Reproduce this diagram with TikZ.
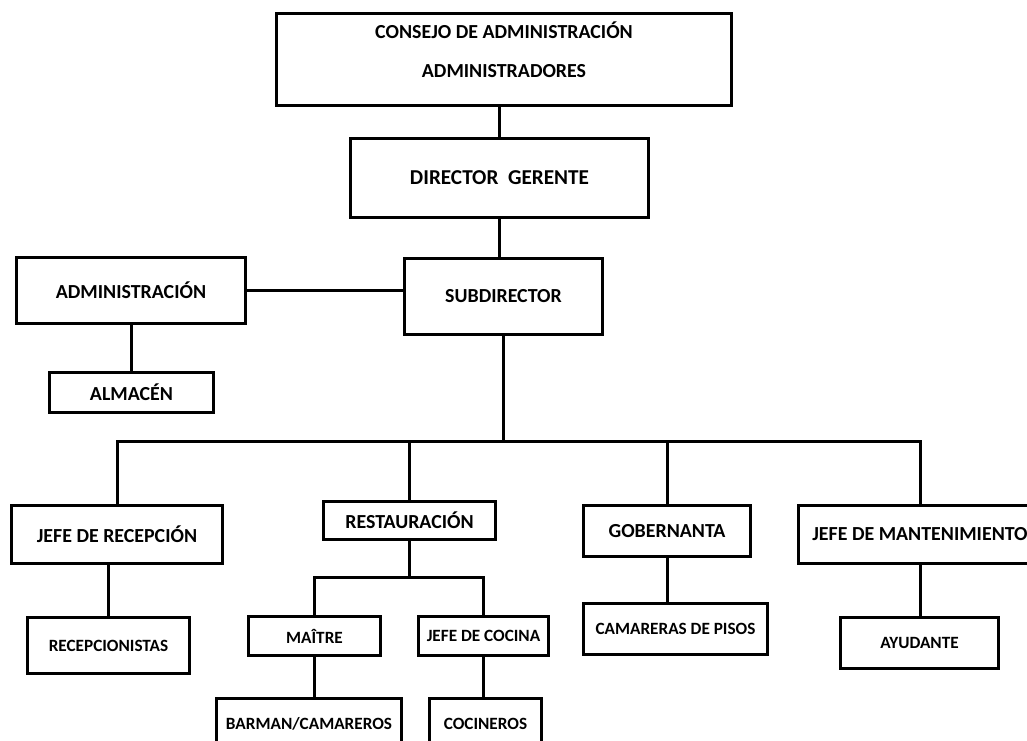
\documentclass[tikz,border=0pt]{standalone}
\usepackage{fontspec}
\setmainfont{Carlito}
\usepackage{tikz}

\begin{document}
\begin{tikzpicture}[
  x=1pt, y=-1pt,
  unit/.style 2 args={draw, line width=3pt, minimum width=#1, minimum height=#2,
              inner sep=0pt, align=center, font=\bfseries\fontsize{19.9}{24}\selectfont},
  subunit/.style 2 args={unit={#1}{#2}, font=\bfseries\fontsize{17.2}{20}\selectfont},
  link/.style={line width=3pt}
]
  \useasboundingbox (0,0) rectangle (1027,740);
  \clip (0,0) rectangle (1027,740);

  \node[unit={455}{92}] (consejo) at (504,59.5)
    {\raisebox{6pt}[\height][\depth]{\begin{tabular}{@{}c@{}}CONSEJO DE ADMINISTRACIÓN\\[15pt]ADMINISTRADORES\end{tabular}}};
  \node[unit={298}{79}, font=\bfseries\fontsize{21.2}{25}\selectfont] (director) at (499.5,178) {DIRECTOR\ \ GERENTE};
  \node[unit={198}{76}] (sub) at (503.5,296.5) {SUBDIRECTOR};
  \node[unit={229}{66}] (admin) at (131,290.5) {ADMINISTRACIÓN};
  \node[unit={164}{40}] (almacen) at (131.5,392.5) {ALMACÉN};

  \node[unit={211}{58}] (recep) at (117,534.5) {JEFE DE RECEPCIÓN};
  \node[unit={172}{38}] (rest) at (409.5,520.5) {RESTAURACIÓN};
  \node[unit={167}{51}] (gob) at (667,531) {GOBERNANTA};
  \node[unit={243}{58}] (mant) at (920,534.5) {JEFE DE MANTENIMIENTO};

  \node[subunit={162}{56}] (recepcionistas) at (108.5,645.5) {RECEPCIONISTAS};
  \node[subunit={132}{39}] (maitre) at (314.5,636) {MAÎTRE};
  \node[subunit={130}{39}] (cocina) at (483.5,636) {JEFE DE COCINA};
  \node[subunit={185}{50}] (barman) at (309,723.5) {BARMAN/CAMAREROS};
  \node[subunit={112}{50}] (cocineros) at (485.5,723.5) {COCINEROS};
  \node[subunit={184}{51}] (camareras) at (675.5,629) {CAMARERAS DE PISOS};
  \node[subunit={158}{51}] (ayudante) at (919.5,643) {AYUDANTE};

  \coordinate (bus) at (503.5,441);
  \coordinate (rbus) at (409.5,577);

  \draw[link] (director.north) -- (director.north |- consejo.south);
  \draw[link] (director.south) -- (director.south |- sub.north);
  \draw[link] (admin.east) -- (admin.east -| sub.west);
  \draw[link] (admin.south) -- (admin.south |- almacen.north);
  \draw[link] (sub.south) -- (bus);
  \draw[link] (recep.north) |- (bus) -| (mant.north);
  \draw[link] (rest.north) -- (rest.north |- bus);
  \draw[link] (gob.north) -- (gob.north |- bus);
  \draw[link] (rest.south) -- (rbus);
  \draw[link] (maitre.north) |- (rbus) -| (cocina.north);
  \draw[link] (maitre.south) -- (maitre.south |- barman.north);
  \draw[link] (cocina.south) -- (cocina.south |- cocineros.north);
  \draw[link] (recepcionistas.north) -- (recepcionistas.north |- recep.south);
  \draw[link] (gob.south) -- (gob.south |- camareras.north);
  \draw[link] (mant.south) -- (mant.south |- ayudante.north);
\end{tikzpicture}
\end{document}
